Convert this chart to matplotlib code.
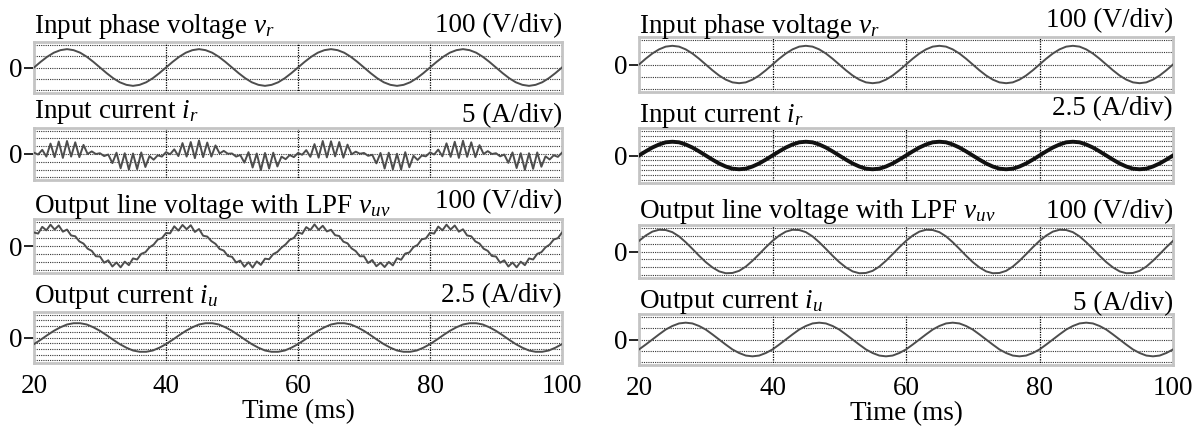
import numpy as np
import matplotlib
matplotlib.use("Agg")
import matplotlib.pyplot as plt

plt.rcParams['font.family'] = ['Liberation Serif', 'DejaVu Serif']
plt.rcParams['mathtext.fontset'] = 'custom'
plt.rcParams['mathtext.rm'] = 'Liberation Serif'
plt.rcParams['mathtext.it'] = 'Liberation Serif:italic'

# time bases (ms)
t_coarse = np.arange(20, 101, 1.0)      # 1 ms samples
t_fine = np.linspace(20, 100, 129)      # 0.625 ms samples

# ---- left side: waveforms (normalised to panel half height)
left_vr = [0, .22, .42, .58, .68, .72, .68, .58, .42, .22, 0, -.22, -.42, -.58, -.68, -.72, -.68, -.58, -.42, -.22,
           0, .22, .42, .58, .68, .72, .68, .58, .42, .22, 0, -.22, -.42, -.58, -.68, -.72, -.68, -.58, -.42, -.22,
           0, .22, .42, .58, .68, .72, .68, .58, .42, .22, 0, -.22, -.42, -.58, -.68, -.72, -.68, -.58, -.42, -.22,
           0, .22, .42, .58, .68, .72, .68, .58, .42, .22, 0, -.22, -.42, -.58, -.68, -.72, -.68, -.58, -.42, -.22,
           0]

left_ir = [.05, -.02, .16, -.10, .40, -.12, .48, -.15, .50, -.10, .45, -.12, .35, .00, .10, .00,
           .03, -.08, -.02, -.35, .05, -.55, .03, -.60, .02, -.58, .06, -.50, -.08, -.22, -.05, -.10,
           .07, -.01, .18, -.08, .42, -.10, .46, -.16, .52, -.12, .44, -.10, .33, .02, .12, .01,
           .02, -.10, -.04, -.33, .07, -.52, .02, -.62, .04, -.56, .05, -.48, -.10, -.20, -.04, -.12,
           .04, -.03, .15, -.11, .38, -.14, .50, -.13, .49, -.09, .46, -.14, .36, -.01, .09, .01,
           .04, -.07, -.03, -.36, .04, -.56, .05, -.59, .01, -.60, .07, -.51, -.07, -.23, -.06, -.09,
           .06, -.02, .17, -.09, .41, -.11, .47, -.15, .51, -.11, .45, -.12, .34, .00, .11, .00,
           .03, -.09, -.02, -.34, .06, -.54, .03, -.61, .03, -.57, .06, -.49, -.09, -.21, -.05, -.11,
           .05]

left_vuv = [.50, .46, .71, .58, .79, .61, .76, .53, .61, .39, .36, .17, .09, -.10, -.18, -.38,
            -.39, -.62, -.53, -.76, -.61, -.79, -.58, -.71, -.46, -.50, -.29, -.23, -.05, .05, .24, .29,
            .48, .47, .73, .57, .78, .62, .77, .52, .63, .38, .35, .18, .08, -.11, -.17, -.37,
            -.40, -.61, -.54, -.77, -.60, -.80, -.57, -.70, -.47, -.49, -.30, -.22, -.06, .06, .23, .30,
            .51, .45, .70, .59, .80, .60, .75, .54, .60, .40, .37, .16, .10, -.09, -.19, -.38,
            -.38, -.63, -.52, -.75, -.62, -.78, -.59, -.72, -.45, -.51, -.28, -.24, -.04, .04, .25, .28,
            .49, .46, .72, .58, .79, .61, .76, .53, .62, .39, .36, .17, .09, -.10, -.18, -.37,
            -.39, -.62, -.53, -.76, -.61, -.79, -.58, -.71, -.46, -.50, -.29, -.23, -.05, .05, .24, .29,
            .50]

left_iu = [-.26, -.09, .09, .26, .40, .51, .56, .56, .51, .40, .26, .09, -.09, -.26, -.40, -.51, -.56, -.56, -.51, -.40,
           -.26, -.09, .09, .26, .40, .51, .56, .56, .51, .40, .26, .09, -.09, -.26, -.40, -.51, -.56, -.56, -.51, -.40,
           -.26, -.09, .09, .26, .40, .51, .56, .56, .51, .40, .26, .09, -.09, -.26, -.40, -.51, -.56, -.56, -.51, -.40,
           -.26, -.09, .09, .26, .40, .51, .56, .56, .51, .40, .26, .09, -.09, -.26, -.40, -.51, -.56, -.56, -.51, -.40,
           -.26]

# ---- right side
right_vr = [0, .21, .40, .55, .65, .68, .65, .55, .40, .21, 0, -.21, -.40, -.55, -.65, -.68, -.65, -.55, -.40, -.21,
            0, .21, .40, .55, .65, .68, .65, .55, .40, .21, 0, -.21, -.40, -.55, -.65, -.68, -.65, -.55, -.40, -.21,
            0, .21, .40, .55, .65, .68, .65, .55, .40, .21, 0, -.21, -.40, -.55, -.65, -.68, -.65, -.55, -.40, -.21,
            0, .21, .40, .55, .65, .68, .65, .55, .40, .21, 0, -.21, -.40, -.55, -.65, -.68, -.65, -.55, -.40, -.21,
            0]

right_ir = [0, .15, .29, .40, .48, .50, .48, .40, .29, .15, 0, -.15, -.29, -.40, -.48, -.50, -.48, -.40, -.29, -.15,
            0, .15, .29, .40, .48, .50, .48, .40, .29, .15, 0, -.15, -.29, -.40, -.48, -.50, -.48, -.40, -.29, -.15,
            0, .15, .29, .40, .48, .50, .48, .40, .29, .15, 0, -.15, -.29, -.40, -.48, -.50, -.48, -.40, -.29, -.15,
            0, .15, .29, .40, .48, .50, .48, .40, .29, .15, 0, -.15, -.29, -.40, -.48, -.50, -.48, -.40, -.29, -.15,
            0]

right_vuv = [.40, .60, .75, .82, .81, .73, .57, .35, .10, -.16, -.40, -.60, -.75, -.82, -.81, -.73, -.57, -.35, -.10, .16,
             .40, .60, .75, .82, .81, .73, .57, .35, .10, -.16, -.40, -.60, -.75, -.82, -.81, -.73, -.57, -.35, -.10, .16,
             .40, .60, .75, .82, .81, .73, .57, .35, .10, -.16, -.40, -.60, -.75, -.82, -.81, -.73, -.57, -.35, -.10, .16,
             .40, .60, .75, .82, .81, .73, .57, .35, .10, -.16, -.40, -.60, -.75, -.82, -.81, -.73, -.57, -.35, -.10, .16,
             .40]

right_iu = [-.39, -.20, 0, .20, .39, .53, .63, .66, .63, .53, .39, .20, 0, -.20, -.39, -.53, -.63, -.66, -.63, -.53,
            -.39, -.20, 0, .20, .39, .53, .63, .66, .63, .53, .39, .20, 0, -.20, -.39, -.53, -.63, -.66, -.63, -.53,
            -.39, -.20, 0, .20, .39, .53, .63, .66, .63, .53, .39, .20, 0, -.20, -.39, -.53, -.63, -.66, -.63, -.53,
            -.39, -.20, 0, .20, .39, .53, .63, .66, .63, .53, .39, .20, 0, -.20, -.39, -.53, -.63, -.66, -.63, -.53,
            -.39]

titles = ["Input phase voltage $v_r$", "Input current $i_r$",
          "Output line voltage with LPF $v_{uv}$", "Output current $i_u$"]
left_units = ["100 (V/div)", "5 (A/div)", "100 (V/div)", "2.5 (A/div)"]
right_units = ["100 (V/div)", "2.5 (A/div)", "100 (V/div)", "5 (A/div)"]
xticks = [20, 40, 60, 80, 100]

W, H = 1197, 428
fig = plt.figure(figsize=(W / 100, H / 100), dpi=100)

def rect(x0, x1, ytop, ybot):
    return [x0 / W, 1 - ybot / H, (x1 - x0) / W, (ybot - ytop) / H]

# panel geometry in pixels
left_rows = [(42, 93), (128, 180), (219, 273), (312, 363)]
right_rows = [(37, 92), (128, 183), (225, 278), (314, 365)]
left_nlines = [5, 7, 7, 9]
right_nlines = [5, 11, 7, 5]
left_title_off = [9, 10, 6, 9]
left_unit_off = [10, 6, 11, 10]
right_title_off = [4, 6, 7, 6]
right_unit_off = [10, 13, 7, 4]

left_data = [(t_coarse, left_vr), (t_fine, left_ir), (t_fine, left_vuv), (t_coarse, left_iu)]
right_data = [(t_coarse, right_vr), (t_coarse, right_ir), (t_coarse, right_vuv), (t_coarse, right_iu)]

FS = 19.5


def make_panel(x0, x1, rows, nlines, data, units, toff, uoff, thick_idx=None):
    for i, (ytop, ybot) in enumerate(rows):
        ax = fig.add_axes(rect(x0, x1, ytop, ybot))
        ax.set_xlim(20, 100)
        ax.set_ylim(-1, 1)
        for yy in np.linspace(-0.9, 0.9, nlines[i]):
            ax.axhline(yy, color='#333333', ls=(0, (1, 1)), lw=0.8, zorder=1)
        for xx in [40, 60, 80]:
            ax.axvline(xx, color='k', ls=(0, (1, 1)), lw=0.9, zorder=1)
        tt, yy = data[i]
        if i == thick_idx:
            ax.plot(tt, yy, color='#111111', lw=2.8, zorder=3)
        else:
            ax.plot(tt, yy, color='#4d4d4d', lw=1.4, zorder=3)
        for s in ax.spines.values():
            s.set_color('#c4c4c4')
            s.set_linewidth(2)
        ax.set_yticks([0])
        ax.set_yticklabels(['0'])
        ax.tick_params(axis='y', direction='out', length=7, width=1.2, pad=1, labelsize=FS)
        ax.set_xticks(xticks)
        ax.tick_params(axis='x', length=0, pad=8, labelsize=FS)
        if i < 3:
            ax.set_xticklabels([])
        else:
            ax.set_xlabel("Time (ms)", fontsize=FS, labelpad=0)
        ax.annotate(titles[i], xy=(0, 1), xycoords='axes fraction', xytext=(0, toff[i]),
                    textcoords='offset pixels', ha='left', va='baseline', fontsize=FS)
        ax.annotate(units[i], xy=(1, 1), xycoords='axes fraction', xytext=(0, uoff[i]),
                    textcoords='offset pixels', ha='right', va='baseline', fontsize=FS)


make_panel(34, 562, left_rows, left_nlines, left_data, left_units, left_title_off, left_unit_off)
make_panel(639, 1173, right_rows, right_nlines, right_data, right_units, right_title_off, right_unit_off, thick_idx=1)

fig.savefig("out.png", dpi=100)
